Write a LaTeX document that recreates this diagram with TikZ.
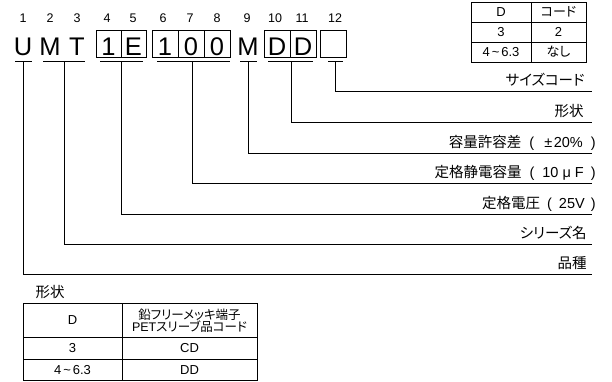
\documentclass[tikz,border=0pt]{standalone}
\usepackage{fontspec}
\setmainfont{Liberation Sans}
\newfontfamily\jp[RawFeature=+palt]{Noto Sans CJK JP}
\begin{document}
\begin{tikzpicture}[x=1pt,y=-1pt, line width=0.8pt,
  big/.style={font=\fontsize{25.5}{25.5}\selectfont, inner sep=0pt, anchor=base},
  num/.style={font=\fontsize{12.5}{12.5}\selectfont, inner sep=0pt, anchor=base},
  lab/.style={font=\fontsize{14.5}{14.5}\selectfont, anchor=base east, inner sep=0pt},
  tbl/.style={font=\fontsize{13}{13}\selectfont, inner sep=0pt},
  cellbox/.style={draw, line width=0.8pt},
  conn/.style={draw, line width=0.8pt}]
\useasboundingbox (0,0) rectangle (612,381);
% position numbers
\foreach \x/\t [count=\i] in {23/1,50/2,77/3,107/4,133/5,163/6,190/7,217/8,247/9,275/10,302/11,335/12}
  \node[num] (n\i) at (\x,22.5) {\t};
% code letters
\foreach \x/\t [count=\i] in {23/U,50/M,77/T,108.5/1,133.5/E,165/1,191/0,217/0,248/M,277/D,303/D}
  \node[big] (c\i) at (\x,55) {\t};
% boxes
\draw[cellbox] (96,30) rectangle (146,57) (121,30) -- (121,57);
\draw[cellbox] (152,30) rectangle (230,57) (178,30) -- (178,57) (204,30) -- (204,57);
\draw[cellbox] (264,30) rectangle (316,57) (290,30) -- (290,57);
\draw[cellbox] (320,30) rectangle (346,57);
% underlines
\draw (15,61.5) -- (32,61.5);
\draw (43,61.5) -- (85,61.5);
\draw (100,61.5) -- (143,61.5);
\draw (157,61.5) -- (230,61.5);
\draw (240,61.5) -- (257,61.5);
\draw (268,61.5) -- (313,61.5);
\draw (328,61.5) -- (343,61.5);
% connector start points
\coordinate (u1) at (23,61.5);
\coordinate (u2) at (64,61.5);
\coordinate (u3) at (121,61.5);
\coordinate (u4) at (192,61.5);
\coordinate (u5) at (248,61.5);
\coordinate (u6) at (291,61.5);
\coordinate (u7) at (335,61.5);
% connector end points
\coordinate (e7) at (592,91);
\coordinate (e6) at (592,122);
\coordinate (e5) at (592,153);
\coordinate (e4) at (592,183);
\coordinate (e3) at (592,214);
\coordinate (e2) at (592,244);
\coordinate (e1) at (592,274);
\foreach \i in {1,...,7} \draw[conn] (u\i) |- (e\i);
% labels
\node[lab] (l7) at (585,85) {\jp サイズコード};
\node[lab] (l6) at (584,116) {\jp 形状};
\node[lab] (l5) at (596,147) {{\jp 容量許容差}\hspace{8pt}(\hspace{10pt}±\hspace{1.5pt}20\%\hspace{8pt})};
\node[lab] (l4) at (596,177) {{\jp 定格静電容量}\hspace{8pt}(\hspace{8pt}10\hspace{4pt}μ\hspace{4pt}F\hspace{7pt})};
\node[lab] (l3) at (596,208) {{\jp 定格電圧}\hspace{7pt}(\hspace{7pt}25V\hspace{6pt})};
\node[lab] (l2) at (587,238) {\jp シリーズ名};
\node[lab] (l1) at (587,268) {\jp 品種};
% size code table
\draw (471,2) rectangle (586,62) (471,22) -- (586,22) (471,42) -- (586,42) (531,2) -- (531,62);
\node[tbl] (ta1) at (501,12) {D};
\node[tbl] (tb1) at (558.5,12) {\jp コード};
\node[tbl] (ta2) at (501,32) {3};
\node[tbl] (tb2) at (558.5,32) {2};
\node[tbl] (ta3) at (501,52) {4\hspace{2pt}\char`\~\hspace{2pt}6.3};
\node[tbl] (tb3) at (558.5,52) {\jp なし};
% shape table
\node[font=\jp\fontsize{14.5}{14.5}\selectfont, inner sep=0pt] (st) at (50,292) {形状};
\draw (23,303) rectangle (257,380.5) (23,337) -- (257,337) (23,359) -- (257,359) (122,303) -- (122,380.5);
\node[tbl] (sa1) at (72.5,320) {D};
\node[tbl, align=center, font=\fontsize{12.5}{12}\selectfont] (sb1) at (189.5,320.5) {\jp 鉛フリーメッキ端子\\PET{\jp スリーブ品コード}};
\node[tbl] (sa2) at (72.5,348) {3};
\node[tbl] (sb2) at (189.5,348) {CD};
\node[tbl] (sa3) at (72.5,370) {4\hspace{2pt}\char`\~\hspace{2pt}6.3};
\node[tbl] (sb3) at (189.5,370) {DD};
\end{tikzpicture}
\end{document}
